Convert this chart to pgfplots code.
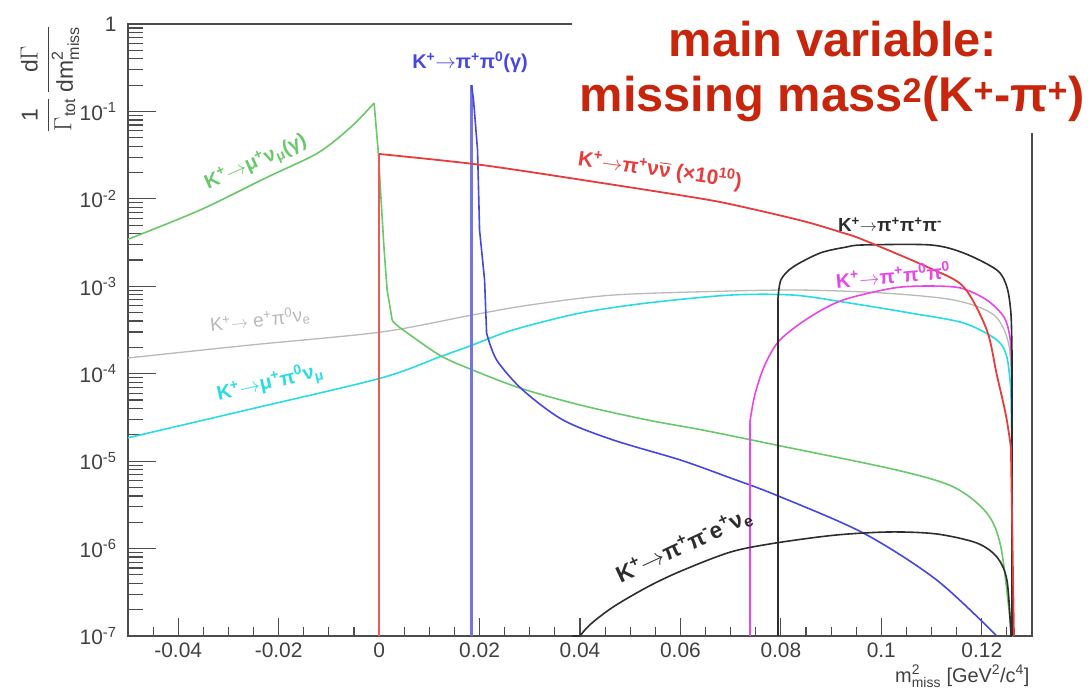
\documentclass[border=0pt]{standalone}
\usepackage{pgfplots}
\pgfplotsset{compat=1.18}
\usepackage{amsmath}
\usepackage{fontspec}
\setmainfont{Liberation Sans}
\definecolor{cgreen}{RGB}{105,200,105}
\definecolor{cred}{RGB}{232,60,60}
\definecolor{cblue}{RGB}{70,70,225}
\definecolor{cgray}{RGB}{185,185,185}
\definecolor{ccyan}{RGB}{40,220,230}
\definecolor{cmag}{RGB}{232,70,232}
\definecolor{cblack}{RGB}{45,45,45}
\definecolor{ctitle}{RGB}{200,38,12}
\newcommand{\ar}{$\rightarrow$}
\newcommand{\sps}[1]{\textsuperscript{#1}}
\begin{document}
\begin{tikzpicture}
\path[use as bounding box] (-128bp,-55bp) rectangle (962bp,636bp);
\begin{axis}[
  at={(0bp,0bp)}, anchor=south west,
  scale only axis, width=904bp, height=612bp,
  xmin=-0.05, xmax=0.13, ymin=1e-7, ymax=1, ymode=log,
  axis line style={line width=1.6bp, black!70},
  tick style={line width=1.2bp, black!70},
  tick align=inside, xtick pos=bottom, ytick pos=left,
  xtick={-0.04,-0.02,0,0.02,0.04,0.06,0.08,0.1,0.12},
  xticklabels={-0.04,-0.02,0,0.02,0.04,0.06,0.08,0.1,0.12},
  minor xtick={-0.045,-0.035,-0.03,-0.025,-0.015,-0.01,-0.005,0.005,0.01,0.015,0.025,0.03,0.035,0.045,0.05,0.055,0.065,0.07,0.075,0.085,0.09,0.095,0.105,0.11,0.115,0.125},
  ytick={1e-7,1e-6,1e-5,1e-4,1e-3,1e-2,1e-1,1},
  yticklabels={10\sps{-7},10\sps{-6},10\sps{-5},10\sps{-4},10\sps{-3},10\sps{-2},10\sps{-1},1},
  minor ytick={2e-7,3e-7,4e-7,5e-7,6e-7,7e-7,8e-7,9e-7,2e-6,3e-6,4e-6,5e-6,6e-6,7e-6,8e-6,9e-6,2e-5,3e-5,4e-5,5e-5,6e-5,7e-5,8e-5,9e-5,2e-4,3e-4,4e-4,5e-4,6e-4,7e-4,8e-4,9e-4,2e-3,3e-3,4e-3,5e-3,6e-3,7e-3,8e-3,9e-3,2e-2,3e-2,4e-2,5e-2,6e-2,7e-2,8e-2,9e-2,0.2,0.3,0.4,0.5,0.6,0.7,0.8,0.9},
  xtick style={/pgfplots/major tick length=18bp, /pgfplots/minor tick length=9bp},
  ytick style={/pgfplots/major tick length=28bp, /pgfplots/minor tick length=15bp},
  ticklabel style={font=\fontsize{21}{24}\selectfont, text=black!75},
  xticklabel style={yshift=-3bp},
  yticklabel style={xshift=-8bp},
  every axis plot/.append style={line width=1.6bp},
]
% K -> e pi0 nu
\addplot[cgray, line width=1.3bp, smooth] coordinates {(-0.05,1.514e-4)(-0.0256,2.13e-4)(0.0004,3.00e-4)(0.0186,4.70e-4)(0.03,6.11e-4)(0.0466,7.94e-4)(0.07,8.83e-4)(0.0844,9.05e-4)(0.1004,8.38e-4)(0.1144,6.97e-4)(0.1224,4.70e-4)(0.1254,2.13e-4)(0.126,5.0e-5)};
% K -> mu pi0 nu
\addplot[ccyan, smooth] coordinates {(-0.05,1.85e-5)(-0.0256,3.94e-5)(0.0004,8.93e-5)(0.012,1.552e-4)(0.0186,2.13e-4)(0.0266,3.16e-4)(0.04,4.94e-4)(0.0534,6.44e-4)(0.07,7.94e-4)(0.0824,7.94e-4)(0.0924,6.61e-4)(0.1058,4.94e-4)(0.1164,3.80e-4)(0.123,2.43e-4)(0.125,1.552e-4)(0.1258,6.52e-5)};
\addplot[ccyan] coordinates {(0.1258,6.52e-5)(0.126,1.34e-5)(0.126,1e-7)};
% K -> mu nu
\addplot[cgreen, smooth] coordinates {(-0.05,3.45e-3)(-0.0356,7.47e-3)(-0.0222,1.778e-2)(-0.0122,3.35e-2)(-0.0056,6.64e-2)(-0.001,0.1247)};
\addplot[cgreen] coordinates {(-0.001,0.1247)(-0.0002,3.62e-2)(0.0004,9.70e-3)(0.001,2.60e-3)(0.0016,9.05e-4)(0.0026,4.11e-4)};
\addplot[cgreen, smooth] coordinates {(0.0026,4.11e-4)(0.004,3.42e-4)(0.012,1.637e-4)(0.0186,1.104e-4)(0.028,6.87e-5)(0.04,4.39e-5)(0.0534,2.96e-5)(0.0644,2.27e-5)(0.079,1.531e-5)(0.103,7.93e-6)(0.1144,5.06e-6)(0.121,2.55e-6)(0.1238,1.042e-6)(0.1258,1.27e-7)(0.126,1e-7)};
% K -> pi pi0
\addplot[cblue!75, line width=2.6bp] coordinates {(0.0184,1e-7)(0.0184,0.2)};
\addplot[cblue] coordinates {(0.0184,0.2)(0.0188,0.135)(0.0196,3.62e-2)(0.02,4.41e-3)(0.021,1.18e-3)(0.0214,2.92e-4)};
\addplot[cblue, smooth] coordinates {(0.0214,2.92e-4)(0.0234,1.436e-4)(0.0286,6.52e-5)(0.0366,2.96e-5)(0.0466,1.746e-5)(0.06,1.03e-5)(0.07,6.41e-6)(0.079,4.10e-6)(0.0964,1.507e-6)(0.111,4.38e-7)(0.123,1e-7)};
% K -> pi pi0 pi0
\addplot[cmag] coordinates {(0.0738,1e-7)(0.0738,2.73e-5)};
\addplot[cmag, smooth] coordinates {(0.0738,2.73e-5)(0.0748,5.71e-5)(0.0768,1.259e-4)(0.0798,2.43e-4)(0.0858,4.46e-4)(0.0924,6.97e-4)(0.1024,9.55e-4)(0.1094,1.007e-3)(0.1158,9.55e-4)(0.121,6.97e-4)(0.1244,4.46e-4)(0.1256,2.63e-4)(0.126,1.104e-4)};
\addplot[cmag] coordinates {(0.126,1.104e-4)(0.126,1e-7)};
% K -> pi pi pi
\addplot[cblack] coordinates {(0.0794,1e-7)(0.0794,6.97e-4)};
\addplot[cblack, smooth] coordinates {(0.0794,6.97e-4)(0.08,1.18e-3)(0.0824,1.66e-3)(0.0878,2.40e-3)(0.093,2.81e-3)(0.0964,2.97e-3)(0.1098,2.97e-3)(0.1164,2.40e-3)(0.123,1.535e-3)(0.125,9.82e-4)(0.1258,4.94e-4)(0.126,1.87e-4)};
\addplot[cblack] coordinates {(0.126,1.87e-4)(0.126,1e-7)};
% K -> pi pi e nu
\addplot[cblack] coordinates {(0.0385,1e-7)(0.04,1e-7)};
\addplot[cblack, smooth] coordinates {(0.04,1e-7)(0.042,1.35e-7)(0.0466,2.15e-7)(0.0534,3.63e-7)(0.06,5.5e-7)(0.07,9.14e-7)(0.079,1.159e-6)(0.091,1.429e-6)(0.1018,1.549e-6)(0.111,1.47e-6)(0.119,1.159e-6)(0.123,8.02e-7)(0.125,4.38e-7)(0.1258,1.08e-7)(0.1258,1e-7)};
% K -> pi nu nubar
\addplot[cred!85, line width=2.6bp] coordinates {(0,1e-7)(0,3.26e-2)};
\addplot[cred, line width=1.8bp, smooth] coordinates {(0,3.26e-2)(0.0204,2.44e-2)(0.0444,1.517e-2)(0.0644,1.0e-2)(0.0724,8.1e-3)(0.0844,5.58e-3)(0.0918,4.18e-3)(0.0964,3.4e-3)(0.1098,1.6e-3)(0.1164,9.82e-4)(0.121,3.16e-4)(0.123,9.66e-5)(0.1248,3.37e-5)(0.1258,1.45e-5)};
\addplot[cred, line width=1.8bp] coordinates {(0.1258,1.45e-5)(0.1264,1.08e-7)(0.1264,1e-7)};
\end{axis}
% white box behind title
\fill[white] (444bp,503bp) rectangle (962bp,640bp);
\node[anchor=base, text=ctitle, font=\fontsize{49}{56}\selectfont\bfseries] at (705bp,579bp) {main variable:};
\node[anchor=base, text=ctitle, font=\fontsize{49}{56}\selectfont\bfseries] at (704bp,524bp) {missing mass\sps{2}(K\sps{+}-π\sps{+})};
% curve labels
\node[text=cblue, font=\fontsize{20}{24}\selectfont\bfseries] at (342bp,574bp) {K\sps{+}\ar π\sps{+}π\sps{0}(γ)};
\node[text=cgreen, rotate=24, font=\fontsize{20}{24}\selectfont\bfseries] at (128bp,473bp) {K\sps{+}\ar μ\sps{+}ν\textsubscript{μ}(γ)};
\node[text=cgray, rotate=6, font=\fontsize{19}{22}\selectfont] at (132bp,316bp) {K\sps{+}\ar\ e\sps{+}π\sps{0}ν\textsubscript{e}};
\node[text=ccyan, rotate=13, font=\fontsize{20}{24}\selectfont\bfseries] at (142bp,253bp) {K\sps{+}\ar μ\sps{+}π\sps{0}ν\textsubscript{μ}};
\node[text=cred, rotate=-8, font=\fontsize{21}{24}\selectfont\bfseries] at (532bp,466bp) {K\sps{+}\ar π\sps{+}ν$\overline{\mbox{ν}}$ (×10\sps{10})};
\node[text=cblack, font=\fontsize{19}{22}\selectfont\bfseries] at (762bp,411bp) {K\sps{+}\ar π\sps{+}π\sps{+}π\sps{-}};
\node[text=cmag, rotate=5, font=\fontsize{20}{22}\selectfont\bfseries] at (765bp,361bp) {K\sps{+}\ar π\sps{+}π\sps{0}π\sps{0}};
\node[text=cblack, rotate=25, font=\fontsize{23}{26}\selectfont\bfseries] at (556bp,90bp) {K\sps{+}\ar π\sps{+}π\sps{-}e\sps{+}ν\textsubscript{e}};
% axis titles
\node[rotate=90, anchor=east, text=black!75, font=\fontsize{23}{26}\selectfont] at (-78bp,614bp) {$\dfrac{\text{1}}{\Gamma_{\text{tot}}}\,\dfrac{\text{d}\Gamma}{\text{dm}^{\text{2}}_{\text{miss}}}$};
\node[anchor=base east, text=black!75, font=\fontsize{20}{24}\selectfont] at (905bp,-46bp) {$\text{m}^{\text{2}}_{\text{miss}}$ [GeV\sps{2}/c\sps{4}]};
\end{tikzpicture}
\end{document}
